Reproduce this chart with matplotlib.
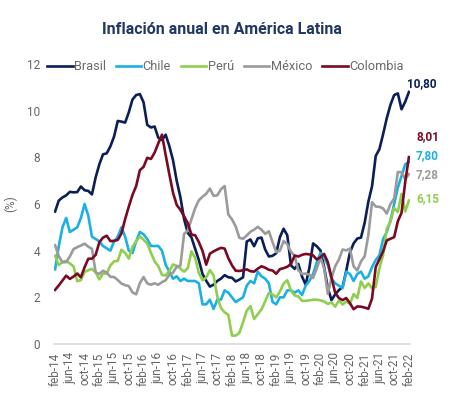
import matplotlib
matplotlib.use("Agg")
import matplotlib.pyplot as plt

plt.rcParams['font.family'] = ['Roboto', 'DejaVu Sans']

tick_labels = ["feb-14", "jun-14", "oct-14", "feb-15", "jun-15", "oct-15", "feb-16", "jun-16",
               "oct-16", "feb-17", "jun-17", "oct-17", "feb-18", "jun-18", "oct-18", "feb-19",
               "jun-19", "oct-19", "feb-20", "jun-20", "oct-20", "feb-21", "jun-21", "oct-21", "feb-22"]

brasil = [5.68, 6.15, 6.28, 6.37, 6.52, 6.50, 6.51, 6.75, 6.59, 6.56, 6.41,
          7.14, 7.70, 8.13, 8.17, 8.47, 8.89, 9.56, 9.53, 9.49, 9.93, 10.48, 10.67,
          10.71, 10.36, 9.39, 9.28, 9.32, 8.84, 8.74, 8.97, 8.48, 7.87, 6.99, 6.29,
          5.35, 4.76, 4.57, 4.08, 3.60, 3.00, 2.71, 2.46, 2.54, 2.70, 2.80, 2.95,
          2.86, 2.84, 2.68, 2.76, 2.86, 4.39, 4.48, 4.19, 4.53, 4.56, 4.05, 3.75,
          3.78, 3.89, 4.58, 4.94, 4.66, 3.37, 3.22, 3.43, 2.89, 2.54, 3.27, 4.31,
          4.19, 4.01, 3.30, 2.40, 1.88, 2.13, 2.31, 2.44, 3.14, 3.92, 4.31, 4.52,
          4.56, 5.20, 6.10, 6.76, 8.06, 8.35, 8.99, 9.68, 10.25, 10.67, 10.74, 10.06,
          10.38, 10.80]

chile = [3.2, 4.2, 5.0, 5.4, 4.8, 4.9, 5.0, 5.4, 6.0, 5.5, 4.6,
         4.5, 4.4, 4.2, 4.1, 4.0, 4.4, 4.6, 5.0, 4.6, 4.0, 3.9, 4.4,
         4.8, 4.7, 4.5, 4.2, 4.2, 4.2, 4.0, 3.4, 3.1, 2.8, 2.9, 2.7,
         2.8, 2.7, 2.7, 2.7, 2.6, 1.7, 1.7, 1.9, 1.5, 1.9, 1.9, 2.3,
         2.2, 2.0, 1.8, 1.9, 2.0, 2.5, 2.7, 2.6, 3.1, 2.9, 2.8, 2.6,
         1.8, 1.7, 2.0, 2.0, 2.3, 2.3, 2.2, 2.3, 2.1, 2.5, 2.7, 3.0,
         3.5, 3.9, 3.7, 3.4, 2.8, 2.6, 2.5, 2.4, 3.1, 3.0, 2.7, 3.0,
         3.1, 2.8, 2.9, 3.3, 3.6, 3.8, 4.5, 4.8, 5.3, 6.0, 6.7, 7.2,
         7.7, 7.8]

peru = [3.78, 3.38, 3.52, 3.56, 3.45, 3.33, 2.69, 2.74, 3.09, 3.16, 3.22,
        3.07, 2.77, 3.02, 3.02, 3.37, 3.54, 3.56, 4.04, 3.90, 3.66, 4.17, 4.40,
        4.61, 4.47, 4.30, 3.91, 3.54, 3.34, 2.96, 2.94, 3.13, 3.41, 3.35, 3.23,
        3.10, 3.25, 3.97, 3.69, 3.04, 2.73, 2.85, 3.17, 2.94, 2.04, 1.54, 1.36,
        1.25, 0.36, 0.36, 0.48, 0.93, 1.43, 1.62, 1.07, 1.28, 1.48, 1.83, 2.19,
        2.13, 2.00, 2.25, 2.59, 2.73, 2.29, 2.08, 2.04, 1.85, 1.85, 1.87, 1.90,
        1.90, 1.87, 1.82, 1.72, 1.78, 1.60, 1.86, 1.69, 1.82, 1.72, 2.14, 1.97,
        2.68, 2.40, 2.60, 2.38, 2.45, 3.25, 3.81, 4.95, 5.23, 5.83, 5.66, 6.43,
        5.68, 6.15]

mexico = [4.23, 3.76, 3.50, 3.51, 3.75, 4.07, 4.15, 4.22, 4.30, 4.17, 4.08,
          3.07, 3.00, 3.14, 3.06, 2.88, 2.87, 2.74, 2.59, 2.52, 2.48, 2.21, 2.13,
          2.61, 2.87, 2.60, 2.54, 2.60, 2.54, 2.65, 2.73, 2.97, 3.06, 3.31, 3.36,
          4.72, 4.86, 5.35, 5.82, 6.16, 6.31, 6.44, 6.66, 6.35, 6.37, 6.63, 6.77,
          5.55, 5.34, 5.04, 4.55, 4.51, 4.65, 4.81, 4.90, 5.02, 4.90, 4.72, 4.83,
          4.37, 3.94, 4.00, 4.41, 4.28, 3.95, 3.78, 3.16, 3.00, 3.02, 2.97, 2.83,
          3.24, 3.70, 3.25, 2.15, 2.84, 3.33, 3.62, 4.05, 4.01, 4.09, 3.33, 3.15,
          3.54, 3.76, 4.67, 6.08, 5.89, 5.88, 5.81, 5.59, 6.00, 6.24, 7.37, 7.36,
          7.07, 7.28]

colombia = [2.32, 2.51, 2.72, 2.93, 2.79, 2.89, 3.02, 2.86, 3.29, 3.65, 3.66,
            3.82, 4.36, 4.56, 4.64, 4.41, 4.42, 4.46, 4.74, 5.35, 5.89, 6.39, 6.77,
            7.45, 7.59, 7.98, 7.93, 8.20, 8.60, 8.97, 8.10, 7.27, 6.48, 5.96, 5.75,
            5.47, 5.18, 4.69, 4.66, 4.37, 3.99, 3.40, 3.87, 3.97, 4.05, 4.12, 4.09,
            3.68, 3.37, 3.14, 3.13, 3.16, 3.20, 3.12, 3.10, 3.23, 3.33, 3.27, 3.18,
            3.15, 3.01, 3.21, 3.25, 3.31, 3.43, 3.79, 3.75, 3.82, 3.86, 3.84, 3.80,
            3.62, 3.72, 3.86, 3.51, 2.85, 2.19, 1.97, 1.88, 1.97, 1.75, 1.49, 1.61,
            1.60, 1.56, 1.51, 1.95, 3.30, 3.63, 3.97, 4.44, 4.51, 4.58, 5.26, 5.62,
            6.94, 8.01]

series = [
    ("Brasil", brasil, "#0B1F57", 28, 8),
    ("Chile", chile, "#1BB0E4", 30, 6),
    ("Perú", peru, "#8FCF4F", 30, 2),
    ("México", mexico, "#9B9B9B", 30, 0),
    ("Colombia", colombia, "#7A0A22", 30, 20),
]

fig = plt.figure(figsize=(4.6, 3.99), dpi=100)
ax = fig.add_axes([54 / 460, 55 / 399, 356 / 460, 280 / 399])

x = list(range(len(brasil)))
for name, vals, col, _, _ in series:
    ax.plot(x, vals, color=col, lw=1.9, label=name, solid_joinstyle='round')

for name, vals, col, dx, dy in series:
    ax.annotate(f"{vals[-1]:.2f}".replace(".", ","), xy=(len(vals) - 1, vals[-1]),
                xytext=(dx, dy), textcoords='offset pixels', ha='right', va='center',
                fontsize=8.5, fontweight='bold', color=col)

ax.set_xlim(-0.3, 96.3)
ax.set_ylim(0, 12)
ax.set_yticks(range(0, 13, 2))
ax.set_xticks(range(0, 97, 4))
ax.set_xticklabels(tick_labels, rotation=90)
ax.tick_params(axis='both', length=0, labelsize=8.5, labelcolor='#666666')
ax.tick_params(axis='y', pad=10)
ax.tick_params(axis='x', pad=6)
for s in ['top', 'right', 'left']:
    ax.spines[s].set_visible(False)
ax.spines['bottom'].set_color('#D9D9D9')
ax.spines['bottom'].set_linewidth(1.2)
ax.set_ylabel("(%)", color='#666666', fontsize=8.5)
ax.yaxis.set_label_coords(-37 / 356, 0.5)

leg = ax.legend(ncol=5, loc='center left', bbox_to_anchor=(47 / 460, 1 - 67 / 399),
                bbox_transform=fig.transFigure, frameon=False, fontsize=9.2,
                handlelength=2.0, handletextpad=0.1, columnspacing=0.78,
                borderpad=0, borderaxespad=0)
for t in leg.get_texts():
    t.set_color('#6A6A6A')

fig.text(222 / 460, 1 - 29 / 399, "Inflación anual en América Latina", ha='center', va='center',
         fontsize=11.5, fontweight='bold', color='#1F3864')

fig.savefig("out.png", dpi=100)
